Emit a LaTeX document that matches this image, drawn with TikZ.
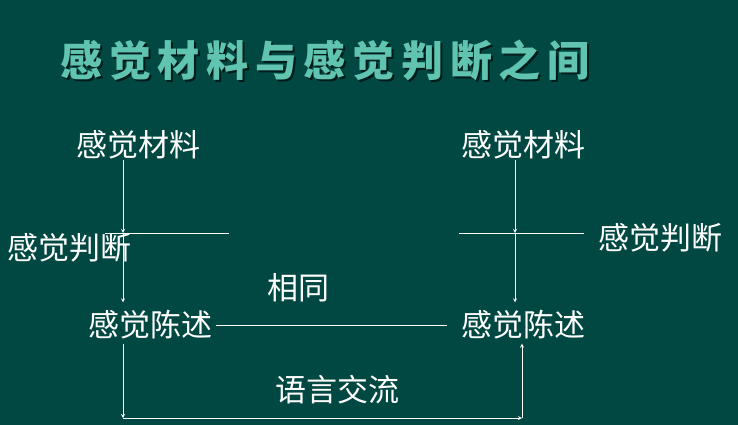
\documentclass[tikz,border=0pt]{standalone}
\usepackage{fontspec}
\setmainfont{Noto Sans CJK SC}
\newfontfamily\titlefont{Noto Sans CJK SC}[LetterSpace=16]
\usepackage{tikz}
\usetikzlibrary{arrows, positioning}
\definecolor{board}{RGB}{2,72,66}
\definecolor{titleteal}{RGB}{96,196,176}
\definecolor{titleshade}{RGB}{0,28,24}
\tikzstyle{heading} = [font=\titlefont\bfseries\fontsize{42}{42}\selectfont, inner sep=0pt]
\tikzstyle{term} = [text=white, font=\fontsize{31}{31}\selectfont, inner sep=0pt]
\tikzstyle{arrow} = [white, line width=0.8pt, ->, >=stealth]
\tikzstyle{rule} = [white, line width=0.8pt]

\begin{document}
\begin{tikzpicture}[x=1pt, y=-1pt]
    \fill[board] (0,0) rectangle (738,425);
    \node [heading, text=titleshade] (shade) at (327,62) {感觉材料与感觉判断之间};
    \node [heading, text=titleteal] (title) at (325,60) {感觉材料与感觉判断之间};
    \node [term] (matL) at (138,145) {感觉材料};
    \node [term] (judL) at (69,248) {感觉判断};
    \node [term] (staL) at (150,325) {感觉陈述};
    \node [term] (same) at (298,288) {相同};
    \node [term] (matR) at (523,145) {感觉材料};
    \node [term] (judR) at (660,238) {感觉判断};
    \node [term] (staR) at (523,325) {感觉陈述};
    \node [term] (talk) at (337,390) {语言交流};
    \coordinate (jL) at (123,233);
    \coordinate (jR) at (515,233);
    \coordinate (hL1) at (105,233);
    \coordinate (hL2) at (229,233);
    \coordinate (hR1) at (459,233);
    \coordinate (hR2) at (584,233);
    \coordinate (bL) at (123,418);
    \coordinate (bR) at (522,418);
    \draw [rule] (hL1) -- (hL2);
    \draw [rule] (hR1) -- (hR2);
    \draw [arrow] (matL.south -| jL) -- (jL);
    \draw [arrow, shorten >=8pt] (jL) -- (jL |- staL.north);
    \draw [arrow] (matR.south -| jR) -- (jR);
    \draw [arrow, shorten >=8pt] (jR) -- (jR |- staR.north);
    \draw [rule, shorten <=4pt, shorten >=14pt] (staL) -- (staR);
    \draw [arrow, shorten <=4pt] (staL.south -| jL) -- (bL);
    \draw [arrow] (bL) -- (bR);
    \draw [arrow, shorten >=4pt] (bR) -- (bR |- staR.south);
\end{tikzpicture}
\end{document}
